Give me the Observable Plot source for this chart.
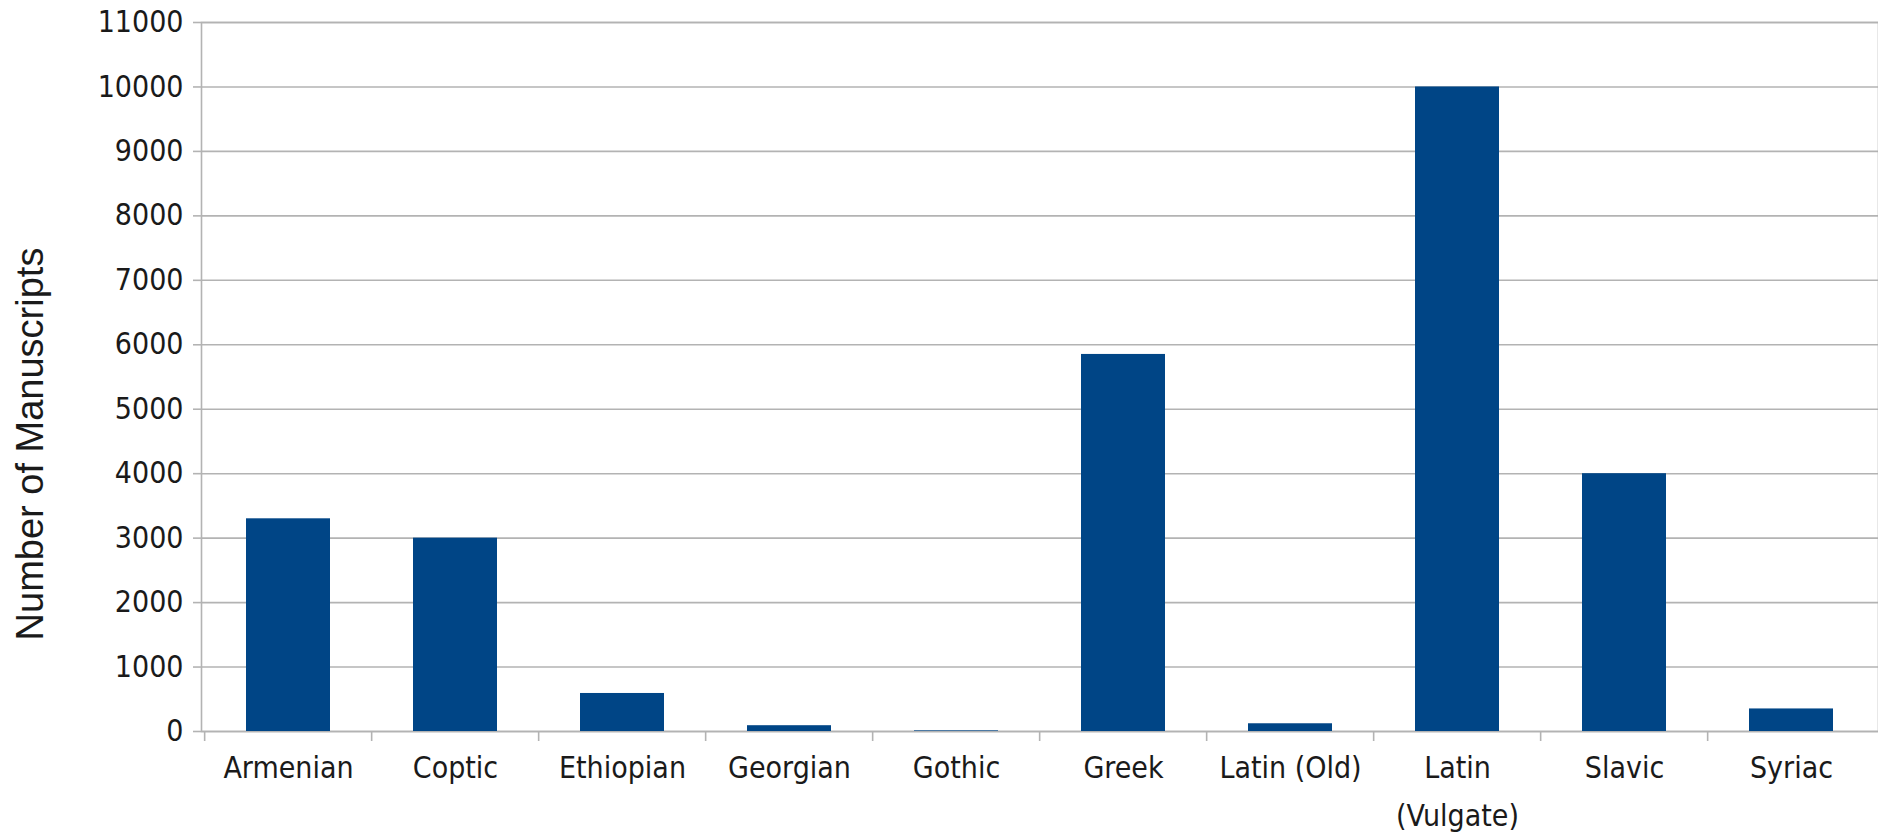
<!DOCTYPE html>
<html>
<head>
<meta charset="utf-8">
<script src="https://cdn.jsdelivr.net/npm/d3@7"></script>
<script src="https://cdn.jsdelivr.net/npm/@observablehq/plot@0.6"></script>
<style>
  html, body { margin: 0; padding: 0; background: #fff; }
  #chart { width: 1878px; height: 838px; }
</style>
</head>
<body>
<div id="chart"></div>
<script>
// Data
const categories = ["Armenian", "Coptic", "Ethiopian", "Georgian", "Gothic", "Greek", "Latin (Old)", "Latin (Vulgate)", "Slavic", "Syriac"];
const values = [3300, 3000, 590, 90, 10, 5850, 120, 10000, 4000, 350];
const tickLabels = ["Armenian", "Coptic", "Ethiopian", "Georgian", "Gothic", "Greek", "Latin (Old)", "Latin\n(Vulgate)", "Slavic", "Syriac"];
const yTicks = [0, 1000, 2000, 3000, 4000, 5000, 6000, 7000, 8000, 9000, 10000, 11000];
const yTitle = "Number of Manuscripts";

const data = categories.map((c, i) => ({category: c, value: values[i]}));
const labelOf = new Map(categories.map((c, i) => [c, tickLabels[i]]));

const W = 1878, H = 838, ML = 201, MR = 0, MT = 22, MB = 107;
const step = (W - ML - MR) / categories.length;
const labelFont = "'Liberation Sans Narrow', 'DejaVu Sans Condensed', sans-serif";

const chart = Plot.plot({
  width: W,
  height: H,
  marginLeft: ML,
  marginRight: MR,
  marginTop: MT,
  marginBottom: MB,
  style: {fontFamily: labelFont, fontSize: "30px", color: "#1a1a1a", background: "#fff"},
  x: {domain: categories, paddingInner: 0.5, paddingOuter: 0.25, label: null},
  y: {domain: [0, 11000], label: null},
  marks: [
    Plot.gridY(yTicks, {stroke: "#b3b3b3", strokeOpacity: 1, strokeWidth: 1.6}),
    Plot.frame({stroke: "#b3b3b3", strokeWidth: 1.6}),
    Plot.barY(data, {x: "category", y: "value", fill: "#004586"}),
    Plot.axisY(yTicks, {tickSize: 8, tickPadding: 10, tickFormat: d3.format("d"), stroke: "#b3b3b3", strokeWidth: 1.6, label: null, fontSize: 30, fill: "#1a1a1a"}),
    Plot.axisX({tickSize: 0, tickPadding: 12, tickFormat: d => labelOf.get(d), label: null, fontSize: 30, lineHeight: 1.6, fill: "#1a1a1a"}),
    Plot.axisX({tickSize: 10, tickFormat: () => "", dx: -step / 2, stroke: "#b3b3b3", strokeWidth: 1.6, label: null}),
    Plot.text([yTitle], {frameAnchor: "left", rotate: -90, dx: -159, dy: 67, text: d => d, textAnchor: "middle", fontFamily: "'Liberation Sans', Arial, sans-serif", fontSize: 38, fill: "#1a1a1a", lineAnchor: "bottom"})
  ]
});
document.getElementById("chart").appendChild(chart);
</script>
</body>
</html>
